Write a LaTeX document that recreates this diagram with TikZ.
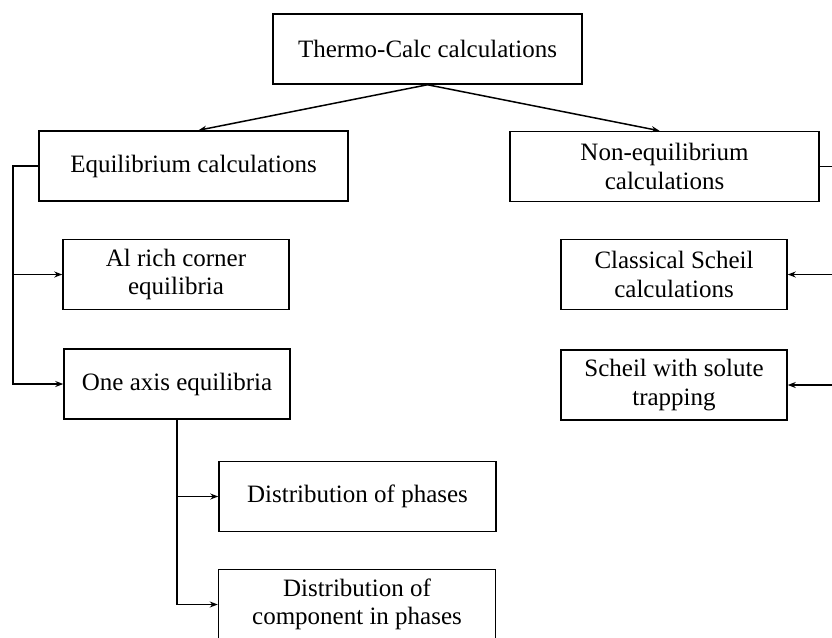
\documentclass[tikz,border=0pt]{standalone}
\usepackage{fontspec}
\setmainfont{Liberation Serif}
\usetikzlibrary{
  arrows.meta,
  positioning,
  calc
}

\begin{document}
\begin{tikzpicture}[
  x=1pt, y=-1pt,
  box/.style={draw, line width=1.5pt, minimum height=70pt, align=center, inner sep=2pt, font=\fontsize{25}{28.5}\selectfont},
  calcbox/.style={box, minimum width=309pt},
  subbox/.style={box, minimum width=226pt},
  leafbox/.style={box, minimum width=277pt},
  link/.style={line width=1.5pt, -{Stealth[length=8pt,width=6pt]}}
]
  \useasboundingbox (0,0) rectangle (832,637);

  \node[calcbox] (tc) at (427.5,49) {Thermo-Calc calculations};
  \node[calcbox] (eq) at (193.5,166) {Equilibrium calculations};
  \node[calcbox] (neq) at (664.5,166.5) {Non-equilibrium\\calculations};

  \node[subbox] (alrich) at (176,274.5) {Al rich corner\\equilibria};
  \node[subbox] (oneaxis) at (177,384) {One axis equilibria};
  \node[subbox] (scheil) at (674,274.5) {Classical Scheil\\calculations};
  \node[subbox] (trap) at (674,385) {Scheil with solute\\trapping};

  \node[leafbox] (phases) at (357.5,496.5) {Distribution of phases};
  \node[leafbox] (comp) at (357,604.5) {Distribution of\\component in phases};

  % bus lines at the sides
  \coordinate (lbus) at (13,0);
  \coordinate (rbus) at (834,0);

  \draw[link] (tc.south) -- ([xshift=5pt]eq.north);
  \draw[link] (tc.south) -- ([xshift=-5pt]neq.north);

  \draw[link] (eq.west) -- (eq.west -| lbus) |- (oneaxis.west);
  \draw[link] (lbus |- alrich.west) -- (alrich.west);

  \draw[link] (neq.east) -- (neq.east -| rbus) |- (trap.east);
  \draw[link] (rbus |- scheil.east) -- (scheil.east);

  \draw[link] (oneaxis.south) |- (comp.west);
  \draw[link] (oneaxis.south |- phases.west) -- (phases.west);
\end{tikzpicture}
\end{document}
